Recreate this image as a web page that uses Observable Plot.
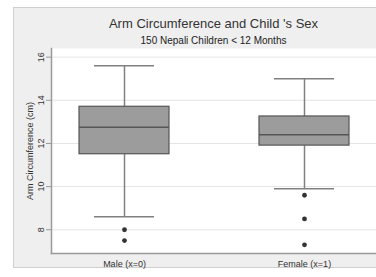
<!DOCTYPE html>
<html>
<head>
<meta charset="utf-8">
<script src="https://cdn.jsdelivr.net/npm/d3@7"></script>
<script src="https://cdn.jsdelivr.net/npm/@observablehq/plot@0.6"></script>
<style>
  html, body { margin: 0; padding: 0; background: #ffffff; }
  #wrap { position: relative; width: 376px; height: 277px; overflow: hidden; font-family: "Liberation Sans", Arial, sans-serif; }
  #panel { position: absolute; left: 13px; top: 7px; width: 380px; height: 261px; background: #efefef; border: 1px solid #cfcfcf; box-sizing: border-box; }
  #title { position: absolute; left: 51px; width: 325px; top: 16px; text-align: center; font-size: 13px; color: #333; white-space: nowrap; }
  #subtitle { position: absolute; left: 51px; width: 325px; top: 35px; text-align: center; font-size: 10px; color: #222; white-space: nowrap; }
  #chart { position: absolute; left: 0; top: 0; }
</style>
</head>
<body>
<div id="wrap">
  <div id="panel"></div>
  <div id="title">Arm Circumference and Child 's Sex</div>
  <div id="subtitle">150 Nepali Children &lt; 12 Months</div>
  <div id="chart"></div>
</div>
<script>
// Summary statistics
const categories = ["Male (x=0)", "Female (x=1)"];
const lowerWhisker = [8.6, 9.9];
const q1 = [11.5, 11.9];
const median = [12.75, 12.4];
const q3 = [13.7, 13.25];
const upperWhisker = [15.6, 15.0];
const outlierGroup = ["Male (x=0)", "Male (x=0)", "Female (x=1)", "Female (x=1)", "Female (x=1)"];
const outlierValue = [8.0, 7.5, 9.6, 8.5, 7.3];
const yTicks = [8, 10, 12, 14, 16];

const boxes = categories.map((c, i) => ({
  group: c, lo: lowerWhisker[i], q1: q1[i], med: median[i], q3: q3[i], hi: upperWhisker[i]
}));
const outliers = outlierGroup.map((g, i) => ({group: g, value: outlierValue[i]}));

const chart = Plot.plot({
  width: 376,
  height: 277,
  marginLeft: 51,
  marginRight: 0,
  marginTop: 48,
  marginBottom: 24,
  style: {background: "transparent", fontFamily: "Liberation Sans, Arial, sans-serif", fontSize: "9px", color: "#333"},
  x: {type: "band", domain: categories, paddingInner: 0.5, paddingOuter: 0.15, label: null},
  y: {domain: [6.9, 16.4], ticks: yTicks},
  marks: [
    Plot.frame({fill: "white", stroke: null}),
    Plot.gridY(yTicks, {stroke: "#e4e4e4", strokeOpacity: 1}),
    Plot.frame({anchor: "left", stroke: "#9a9a9a", strokeWidth: 1.5}),
    Plot.frame({anchor: "bottom", stroke: "#9a9a9a", strokeWidth: 1.5}),
    Plot.axisY({ticks: yTicks, tickSize: 5, tickPadding: 3, tickRotate: -90, stroke: "#999",
      label: "Arm Circumference (cm)", labelAnchor: "center", labelArrow: "none", labelOffset: 25, fill: "#333"}),
    Plot.axisX({tickSize: 0, tickPadding: 7, label: null, fill: "#333"}),
    Plot.ruleX(boxes, {x: "group", y1: "lo", y2: "q1", stroke: "#808080", strokeWidth: 1.5}),
    Plot.ruleX(boxes, {x: "group", y1: "q3", y2: "hi", stroke: "#808080", strokeWidth: 1.5}),
    Plot.tickY(boxes, {x: "group", y: "lo", stroke: "#808080", strokeWidth: 1.5, insetLeft: 15, insetRight: 15}),
    Plot.tickY(boxes, {x: "group", y: "hi", stroke: "#808080", strokeWidth: 1.5, insetLeft: 15, insetRight: 15}),
    Plot.barY(boxes, {x: "group", y1: "q1", y2: "q3", fill: "#9c9c9c", stroke: "#555", strokeWidth: 1.2}),
    Plot.tickY(boxes, {x: "group", y: "med", stroke: "#555", strokeWidth: 1.5}),
    Plot.dot(outliers, {x: "group", y: "value", r: 2.4, fill: "#333", stroke: null})
  ]
});
document.getElementById("chart").appendChild(chart);
</script>
</body>
</html>
